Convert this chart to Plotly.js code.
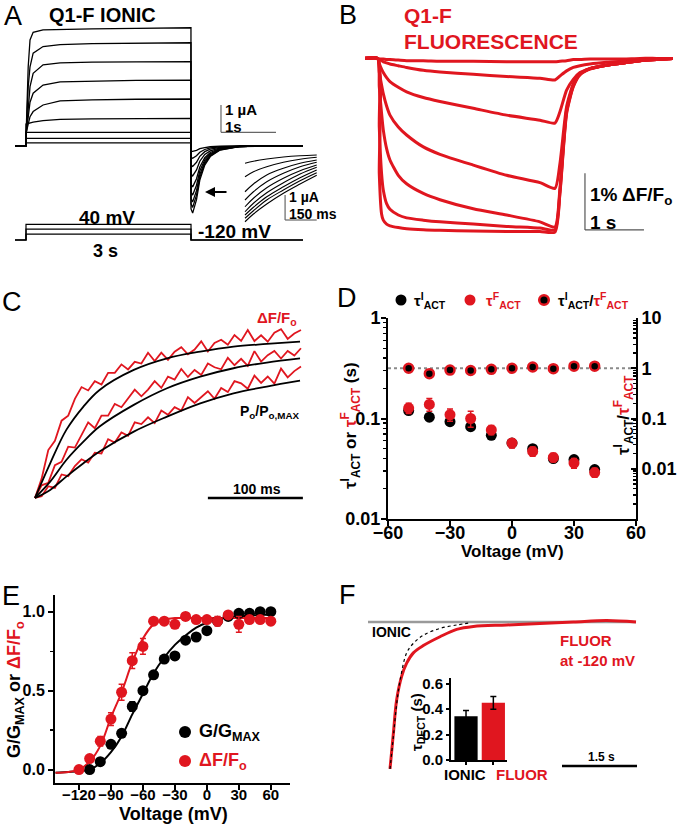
<!DOCTYPE html>
<html><head><meta charset="utf-8">
<script src="https://cdn.plot.ly/plotly-3.0.1.min.js"></script>
<style>html,body{margin:0;padding:0;background:#fff}#chart{width:680px;height:827px}</style>
</head><body><div id="chart"></div>
<script>
// ---------------- Panel A: ionic currents (time s, current uA) ----------------
const tA = [-0.2, 0, 0.0001, 0.04, 0.073, 0.13, 0.31, 0.62, 1.2, 2.0, 2.999, 3.0, 3.03, 3.1, 3.16, 3.25, 3.35, 3.53, 3.9, 4.5, 5.04];
const sweepA1 = [0,0,0.3,2.9,3.88,4.16,4.25,4.27,4.29,4.31,4.33,-2.31,-2.46,-1.97,-1.25,-0.70,-0.39,-0.15,-0.02,0,0];
const sweepA2 = [0,0,0.3,2.17,2.9,3.4,3.64,3.71,3.75,3.77,3.78,-2.12,-2.25,-1.80,-1.15,-0.64,-0.36,-0.14,-0.02,0,0];
const sweepA3 = [0,0,0.35,1.5,2.17,2.66,2.97,3.04,3.07,3.08,3.09,-1.93,-2.05,-1.64,-1.05,-0.58,-0.33,-0.12,-0.02,0,0];
const sweepA4 = [0,0,0.4,1.2,1.6,1.93,2.23,2.35,2.38,2.40,2.41,-1.69,-1.8,-1.44,-0.92,-0.51,-0.29,-0.11,-0.02,0,0];
const sweepA5 = [0,0,0.46,0.8,1.07,1.26,1.50,1.65,1.69,1.71,1.72,-1.41,-1.5,-1.2,-0.77,-0.43,-0.24,-0.09,-0.02,0,0];
const sweepA6 = [0,0,0.8,0.82,0.84,0.87,0.93,0.97,0.99,1.0,1.01,-1.03,-1.1,-0.88,-0.56,-0.31,-0.18,-0.07,-0.01,0,0];
const sweepA7 = [0,0,0.5,0.5,0.5,0.5,0.5,0.5,0.5,0.5,0.5,-0.71,-0.75,-0.6,-0.38,-0.21,-0.12,-0.05,-0.01,0,0];
const sweepA8 = [0,0,0.28,0.28,0.28,0.28,0.28,0.28,0.28,0.28,0.28,-0.42,-0.45,-0.36,-0.23,-0.13,-0.07,-0.03,0,0,0];
const sweepA9 = [0,0,0.11,0.11,0.11,0.11,0.11,0.11,0.11,0.11,0.11,-0.19,-0.2,-0.16,-0.1,-0.06,-0.03,-0.01,0,0,0];
// voltage protocol (mV)
const protoT = [-0.2, 0, 0, 3, 3, 5.04];
const protoHold = -120;
const protoLevels = [40, -10, -60];
// tail-current inset (time ms, current uA)
const tTail = [0, 40, 103, 182, 261, 340];
const tail1 = [-0.41,-0.33,-0.24,-0.16,-0.11,-0.08];
const tail2 = [-0.95,-0.75,-0.55,-0.37,-0.25,-0.17];
const tail3 = [-1.55,-1.24,-0.88,-0.61,-0.41,-0.28];
const tail4 = [-1.88,-1.55,-1.15,-0.81,-0.55,-0.37];
const tail5 = [-2.15,-1.81,-1.39,-1.01,-0.71,-0.48];
const tail6 = [-2.35,-2.01,-1.59,-1.19,-0.84,-0.57];
const tail7 = [-2.48,-2.17,-1.75,-1.35,-0.99,-0.68];
const tail8 = [-2.61,-2.31,-1.88,-1.48,-1.11,-0.79];
const tail9 = [-2.75,-2.44,-2.04,-1.61,-1.24,-0.89];

// ---------------- Panel B: fluorescence (time s, % dF/F) ----------------
const tB = [-0.226,-0.011,0.017,0.056,0.085,0.141,0.198,0.339,0.480,0.763,1.045,1.610,2.175,2.740,2.994,3.079,3.192,3.305,3.418,3.588,3.870,4.153,4.435,4.718,5.0];
const fluB1 = [0,0,-0.01,-0.01,-0.01,-0.02,-0.02,-0.03,-0.04,-0.04,-0.05,-0.05,-0.06,-0.06,-0.06,-0.05,-0.04,-0.02,-0.02,-0.01,-0.01,-0.01,0,0,0];
const fluB2 = [0,0,-0.02,-0.04,-0.06,-0.08,-0.1,-0.13,-0.16,-0.21,-0.24,-0.28,-0.32,-0.35,-0.38,-0.31,-0.22,-0.16,-0.13,-0.1,-0.07,-0.05,-0.03,-0.01,0];
const fluB3 = [0,0,-0.09,-0.19,-0.25,-0.34,-0.41,-0.51,-0.59,-0.69,-0.76,-0.88,-1.0,-1.09,-1.14,-0.94,-0.56,-0.37,-0.25,-0.18,-0.12,-0.08,-0.04,-0.02,0];
const fluB4 = [0,0,-0.24,-0.47,-0.62,-0.84,-1.0,-1.21,-1.35,-1.56,-1.69,-1.88,-2.06,-2.19,-2.29,-1.85,-0.85,-0.45,-0.27,-0.18,-0.12,-0.08,-0.04,-0.02,0];
const fluB5 = [0,0,-0.5,-0.97,-1.26,-1.59,-1.79,-2.06,-2.21,-2.38,-2.49,-2.65,-2.76,-2.88,-2.97,-2.29,-0.91,-0.47,-0.28,-0.18,-0.12,-0.08,-0.04,-0.02,0];
const fluB6 = [0,0,-1.21,-2.03,-2.32,-2.56,-2.66,-2.76,-2.81,-2.85,-2.88,-2.92,-2.96,-2.99,-3.02,-2.35,-0.94,-0.49,-0.28,-0.18,-0.12,-0.08,-0.04,-0.02,0];
const fluB7 = [0,0,-2.03,-2.74,-2.85,-2.92,-2.95,-2.98,-3.0,-3.02,-3.03,-3.04,-3.05,-3.05,-3.06,-2.38,-0.97,-0.5,-0.29,-0.19,-0.12,-0.08,-0.04,-0.02,0];

// ---------------- Panel C: normalized time courses (ms) ----------------
const tCfit = [0,16,33,51,68,104,139,174,209,244,279];
const poC1 = [0,0.206,0.405,0.544,0.643,0.762,0.831,0.871,0.901,0.917,0.931];
const poC2 = [0,0.097,0.226,0.335,0.425,0.554,0.653,0.722,0.772,0.806,0.831];
const poC3 = [0,0.048,0.127,0.206,0.276,0.395,0.484,0.563,0.623,0.663,0.698];
const tC = [0,7,14,21,28,35,42,49,56,63,70,77,84,91,98,105,112,119,126,133,140,147,154,161,168,175,182,189,196,203,210,217,224,231,238,245,252,259,266,273,280];
const dfC1 = [0,0.115,0.285,0.34,0.46,0.49,0.59,0.66,0.64,0.695,0.675,0.745,0.745,0.795,0.765,0.81,0.80,0.864,0.815,0.865,0.822,0.87,0.897,0.855,0.883,0.932,0.872,0.922,0.942,0.912,0.97,0.935,1.0,0.934,0.968,0.93,0.983,1.005,0.947,0.979,1.0];
const dfC2 = [0,0.075,0.09,0.195,0.215,0.305,0.30,0.38,0.45,0.415,0.49,0.49,0.56,0.54,0.595,0.645,0.605,0.645,0.695,0.655,0.722,0.705,0.768,0.72,0.762,0.732,0.80,0.778,0.766,0.834,0.79,0.828,0.786,0.874,0.812,0.85,0.875,0.83,0.875,0.848,0.891];
const dfC3 = [0,0.01,0.07,0.06,0.14,0.13,0.19,0.23,0.21,0.27,0.265,0.35,0.33,0.39,0.37,0.45,0.44,0.48,0.445,0.52,0.495,0.54,0.52,0.60,0.565,0.60,0.635,0.59,0.655,0.63,0.695,0.682,0.65,0.728,0.685,0.723,0.68,0.77,0.718,0.755,0.782];

// ---------------- Panel D: time constants ----------------
const voltD = [-50,-40,-30,-20,-10,0,10,20,30,40];
const tauI = [0.12,0.103,0.093,0.083,0.068,0.057,0.050,0.040,0.039,0.031];
const tauIErr = [0.008,0.007,0.006,0.005,0.004,0.003,0.003,0.002,0.002,0.002];
const tauF = [0.127,0.138,0.109,0.100,0.077,0.057,0.047,0.041,0.036,0.029];
const tauFErr = [0.015,0.02,0.015,0.018,0.008,0.006,0.005,0.004,0.004,0.003];
const tauRatio = [1.0,0.78,0.92,0.9,0.95,1.0,1.06,0.98,1.1,1.1];
const ratioRefV = [-60, 60];
const ratioRef = [1, 1];

// ---------------- Panel E: G-V and F-V ----------------
const voltG = [-110,-100,-90,-80,-70,-60,-50,-40,-30,-20,-10,0,10,20,30,40,50,60];
const gNorm = [0.0,0.05,0.16,0.23,0.40,0.50,0.60,0.70,0.72,0.82,0.84,0.88,0.94,0.97,0.99,0.99,1.0,1.0];
const gErr = [0.02,0.02,0.02,0.02,0.03,0.02,0.02,0.02,0.02,0.02,0.02,0.02,0.02,0.02,0.01,0.01,0.01,0.01];
const voltF = [-120,-110,-100,-90,-80,-70,-60,-50,-40,-30,-20,-10,0,10,20,30,40,50,60];
const fNorm = [0.0,0.07,0.18,0.32,0.49,0.69,0.78,0.94,0.94,0.92,0.97,0.95,0.95,0.94,0.98,0.92,0.95,0.95,0.94];
const fErr = [0.01,0.02,0.03,0.04,0.05,0.05,0.05,0.02,0.02,0.02,0.02,0.02,0.02,0.03,0.02,0.05,0.02,0.02,0.01];
const voltFit = [-142,-130,-120,-110,-100,-90,-80,-70,-60,-50,-40,-30,-20,-10,0,10,20,30,40,50,60];
const fitG = [-0.02,-0.015,-0.01,0.0,0.04,0.11,0.21,0.35,0.48,0.61,0.71,0.79,0.85,0.90,0.93,0.95,0.965,0.97,0.975,0.98,0.98];
const fitF = [-0.02,-0.015,0.0,0.05,0.15,0.33,0.49,0.68,0.83,0.92,0.95,0.96,0.96,0.96,0.96,0.96,0.96,0.96,0.96,0.96,0.96];

// ---------------- Panel F: deactivation ----------------
const tFluor = [0,0.067,0.133,0.233,0.333,0.467,0.667,1.0,1.333,1.667,2.333,3.0,3.667,4.333,4.92];
const fluorDeact = [0,0.24,0.47,0.63,0.72,0.79,0.84,0.90,0.95,0.97,0.98,0.99,1.0,1.01,1.0];
const tIonic = [0,0.067,0.133,0.2,0.333,0.467,0.667,1.0,1.333,1.6];
const ionicDeact = [0,0.22,0.44,0.6,0.79,0.855,0.91,0.957,0.98,0.995];
const tRef = [-0.44, 4.92];
const refLevel = [1, 1];
const barCats = ['IONIC', 'FLUOR'];
const barPos = [0, 1];
const tauDect = [0.345, 0.45];
const tauDectErr = [0.045, 0.05];

// ======================================================================
const W = 680, H = 827;
const RED = '#e0161f';
const FONT = 'Liberation Sans, Arial, sans-serif';
const fx = p => p / W, fy = p => 1 - p / H;
const dX = (a, b) => [fx(a), fx(b)];
const dY = (t, b) => [fy(b), fy(t)];

const traces = [];
const line = (x, y, xa, ya, color, width, extra) => Object.assign({
  x, y, xaxis: xa, yaxis: ya, type: 'scatter', mode: 'lines', hoverinfo: 'skip',
  line: {color, width}, showlegend: false}, extra || {});

// A
[sweepA9, sweepA8, sweepA7, sweepA6, sweepA5, sweepA4, sweepA3, sweepA2, sweepA1].forEach(s =>
  traces.push(line(tA, s, 'x', 'y', '#000', 1.3)));
protoLevels.forEach(v => traces.push(line(protoT, [protoHold, protoHold, v, v, protoHold, protoHold], 'x2', 'y2', '#000', 1.2)));
[tail1, tail2, tail3, tail4, tail5, tail6, tail7, tail8, tail9].forEach(s =>
  traces.push(line(tTail, s, 'x3', 'y3', '#000', 1.1, {line: {color: '#000', width: 1.1, shape: 'spline'}})));
// B
[fluB1, fluB2, fluB3, fluB4, fluB5, fluB6, fluB7].forEach(s =>
  traces.push(line(tB, s, 'x4', 'y4', RED, 3, {line: {color: RED, width: 3, shape: 'spline', smoothing: 0.6}})));
// C
[dfC1, dfC2, dfC3].forEach(s => traces.push(line(tC, s, 'x5', 'y5', RED, 1.8)));
[poC1, poC2, poC3].forEach(s => traces.push(line(tCfit, s, 'x5', 'y5', '#000', 1.8, {line: {color: '#000', width: 1.8, shape: 'spline'}})));
// D
traces.push(line(ratioRefV, ratioRef, 'x6', 'y7', '#8a8a8a', 2, {line: {color: '#8a8a8a', width: 2, dash: 'dot'}}));
traces.push({x: voltD, y: tauI, xaxis: 'x6', yaxis: 'y6', type: 'scatter', mode: 'markers', showlegend: false,
  marker: {color: '#000', size: 11}, error_y: {type: 'data', array: tauIErr, color: '#000', thickness: 1.5, width: 3}});
traces.push({x: voltD, y: tauF, xaxis: 'x6', yaxis: 'y6', type: 'scatter', mode: 'markers', showlegend: false,
  marker: {color: RED, size: 11}, error_y: {type: 'data', array: tauFErr, color: RED, thickness: 1.5, width: 3}});
traces.push({x: voltD, y: tauRatio, xaxis: 'x6', yaxis: 'y7', type: 'scatter', mode: 'markers', showlegend: false,
  marker: {color: '#000', size: 9, line: {color: RED, width: 2.5}}});
// E
traces.push(line(voltFit, fitG, 'x8', 'y8', '#000', 2, {line: {color: '#000', width: 2, shape: 'spline'}}));
traces.push(line(voltFit, fitF, 'x8', 'y8', RED, 2, {line: {color: RED, width: 2, shape: 'spline'}}));
traces.push({x: voltG, y: gNorm, xaxis: 'x8', yaxis: 'y8', type: 'scatter', mode: 'markers', showlegend: false,
  marker: {color: '#000', size: 11}, error_y: {type: 'data', array: gErr, color: '#000', thickness: 1.5, width: 3}});
traces.push({x: voltF, y: fNorm, xaxis: 'x8', yaxis: 'y8', type: 'scatter', mode: 'markers', showlegend: false,
  marker: {color: RED, size: 11}, error_y: {type: 'data', array: fErr, color: RED, thickness: 1.5, width: 3}});
// F
traces.push(line(tRef, refLevel, 'x9', 'y9', '#9a9a9a', 2.5));
traces.push(line(tFluor, fluorDeact, 'x9', 'y9', RED, 3, {line: {color: RED, width: 3, shape: 'spline'}}));
traces.push(line(tIonic, ionicDeact, 'x9', 'y9', '#000', 1.2, {line: {color: '#000', width: 1.2, dash: 'dot', shape: 'spline'}}));
traces.push({x: barPos, y: tauDect, xaxis: 'x10', yaxis: 'y10', type: 'bar', width: 0.85, showlegend: false,
  marker: {color: ['#000', RED]}, error_y: {type: 'data', array: tauDectErr, color: '#000', thickness: 1.5, width: 3}});

// axes
const hid = (domain, range, anchor) => ({domain, range, anchor, visible: false, fixedrange: true});
const tf = s => ({family: FONT, size: s, color: '#000', weight: 'bold'});
const minorLog = (lo, hi) => { const v = []; for (let e = lo; e < hi; e++) for (let k = 2; k <= 9; k++) v.push(k * Math.pow(10, e)); return v; };
const axBase = {showline: true, linewidth: 2, linecolor: '#000', ticks: 'outside', ticklen: 5, tickwidth: 2, tickcolor: '#000',
  showgrid: false, zeroline: false, fixedrange: true};

const layout = {
  width: W, height: H, margin: {l: 0, r: 0, t: 0, b: 0}, paper_bgcolor: '#fff', plot_bgcolor: 'rgba(0,0,0,0)',
  font: {family: FONT, color: '#000'}, showlegend: false,
  xaxis: hid(dX(15, 303), [-0.2, 5.036], 'y'),
  yaxis: hid(dY(25, 215), [-2.53, 4.43], 'x'),
  xaxis2: hid(dX(15, 303), [-0.2, 5.036], 'y2'),
  yaxis2: hid(dY(215, 245), [-171, 134.8], 'x2'),
  xaxis3: hid(dX(240, 320), [-23.7, 355.5], 'y3'),
  yaxis3: hid(dY(150, 225), [-2.88, 0.12], 'x3'),
  xaxis4: hid(dX(365, 673), [-0.225, 4.995], 'y4'),
  yaxis4: hid(dY(30, 240), [-3.2, 0.5], 'x4'),
  xaxis5: hid(dX(25, 310), [-10.5, 289.5], 'y5'),
  yaxis5: hid(dY(315, 505), [-0.042, 1.089], 'x5'),
  xaxis6: Object.assign({}, axBase, {domain: dX(388, 636), range: [-60, 60], anchor: 'y6',
    tickvals: [-60, -30, 0, 30, 60], tickfont: tf(18), ticklabelstandoff: -9}),
  yaxis6: Object.assign({}, axBase, {domain: dY(318, 519), type: 'log', range: [-2, 0], anchor: 'x6',
    tickvals: [0.01, 0.1, 1], ticktext: ['0.01', '0.1', '1'], tickfont: tf(18), ticklabelstandoff: -3,
    minor: {ticks: 'outside', ticklen: 3, tickwidth: 1.3, tickcolor: '#000', tickvals: minorLog(-2, 0)}}),
  yaxis7: Object.assign({}, axBase, {overlaying: 'y6', side: 'right', anchor: 'x6', type: 'log', range: [-3, 1],
    ticks: 'inside', tickvals: [0.01, 0.1, 1, 10], ticktext: ['0.01', '0.1', '1', '10'], tickfont: tf(18),
    minor: {ticks: 'inside', ticklen: 3, tickwidth: 1.3, tickcolor: '#000', tickvals: minorLog(-3, 1)}}),
  xaxis8: Object.assign({}, axBase, {domain: dX(55, 290), range: [-142.5, 78], anchor: 'y8',
    tickvals: [-120, -90, -60, -30, 0, 30, 60], tickfont: tf(15), ticklabelstandoff: -8}),
  yaxis8: Object.assign({}, axBase, {domain: dY(595, 783), range: [-0.085, 1.106], anchor: 'x8',
    tickvals: [0, 0.5, 1], ticktext: ['0.0', '0.5', '1.0'], tickfont: tf(16),
    minor: {ticks: 'outside', ticklen: 3, tickwidth: 1.3, tickcolor: '#000', tickvals: [0.25, 0.75]}}),
  xaxis9: hid(dX(360, 640), [-0.6, 5.0], 'y9'),
  yaxis9: hid(dY(610, 775), [-0.041, 1.082], 'x9'),
  xaxis10: Object.assign({}, axBase, {domain: dX(451, 507), range: [-0.55, 1.5], anchor: 'y10',
    tickvals: barPos, ticklen: 3, showticklabels: false}),
  yaxis10: Object.assign({}, axBase, {domain: dY(678, 760), range: [0, 0.645], anchor: 'x10', ticklen: 3,
    tickvals: [0, 0.2, 0.4, 0.6], ticktext: ['0.0', '0.2', '0.4', '0.6'], tickfont: tf(15)}),
  annotations: [], shapes: []
};

const A = (text, x, y, size, opt) => {
  const o = Object.assign({xanchor: 'center', color: '#000', weight: 'bold', angle: 0}, opt || {});
  layout.annotations.push({text, x: fx(x), y: fy(y), xref: 'paper', yref: 'paper', showarrow: false,
    xanchor: o.xanchor, yanchor: 'middle', textangle: o.angle,
    font: {family: FONT, size, color: o.color, weight: o.weight}});
};
// panel letters
[['A', 13, 16], ['B', 348, 15], ['C', 12, 302], ['D', 347, 298], ['E', 11, 596], ['F', 347, 595]].forEach(l =>
  A(l[0], l[1], l[2], 27, {weight: 'normal'}));
// A texts
A('Q1-F IONIC', 102, 15, 20);
A('1 µA', 223, 110, 15, {xanchor: 'left'});
A('1s', 223, 127, 15, {xanchor: 'left'});
A('1 µA', 287, 197, 14, {xanchor: 'left'});
A('150 ms', 287, 214, 14, {xanchor: 'left'});
A('40 mV', 107, 217, 19);
A('-120 mV', 196, 232, 19, {xanchor: 'left'});
A('3 s', 105, 251, 18);
layout.annotations.push({text: '', x: fx(205), y: fy(192), xref: 'paper', yref: 'paper', showarrow: true,
  ax: 23, ay: 0, arrowhead: 2, arrowsize: 1, arrowwidth: 2, arrowcolor: '#000'});
// B texts
A('Q1-F', 402, 16, 21, {xanchor: 'left', color: RED});
A('FLUORESCENCE', 402, 42, 21, {xanchor: 'left', color: RED});
A('1% ΔF/F<sub>o</sub>', 588, 196, 19, {xanchor: 'left'});
A('1 s', 588, 222, 19, {xanchor: 'left'});
// C texts
A('ΔF/F<sub>o</sub>', 299, 318, 15, {xanchor: 'right', color: RED});
A('P<sub>o</sub>/P<sub>o,MAX</sub>', 302, 412, 14, {xanchor: 'right'});
A('100 ms', 257, 489, 14);
// D texts
A('τ<sup>I</sup><sub>ACT</sub>', 412, 300, 15, {xanchor: 'left'});
A('τ<sup>F</sup><sub>ACT</sub>', 484, 300, 15, {xanchor: 'left', color: RED});
A('τ<sup>I</sup><sub>ACT</sub>/<span style="color:' + RED + '">τ<sup>F</sup><sub>ACT</sub></span>', 556, 300, 15, {xanchor: 'left'});
A('τ<sup>I</sup><sub>ACT</sub> or <span style="color:' + RED + '">τ<sup>F</sup><sub>ACT</sub></span> (s)', 350, 425, 17, {angle: -90});
A('τ<sup>I</sup><sub>ACT</sub>/<span style="color:' + RED + '">τ<sup>F</sup><sub>ACT</sub></span>', 623, 415, 17, {angle: -90});
A('Voltage (mV)', 512, 551, 17);
// E texts
A('G/G<sub>MAX</sub> or <span style="color:' + RED + '">ΔF/F<sub>o</sub></span>', 15, 690, 18, {angle: -90});
A('Voltage (mV)', 173, 814, 18);
A('G/G<sub>MAX</sub>', 197, 732, 18, {xanchor: 'left'});
A('ΔF/F<sub>o</sub>', 197, 761, 18, {xanchor: 'left', color: RED});
// F texts
A('IONIC', 392, 632, 14);
A('FLUOR', 558, 640, 15, {xanchor: 'left', color: RED});
A('at -120 mV', 558, 660, 15, {xanchor: 'left', color: RED});
A('1.5 s', 601, 757, 12);
A('τ<sub>DECT</sub> (s)', 417, 722, 15, {angle: -90});
A(barCats[0], 465, 774, 15);
A(barCats[1], 494, 774, 15, {color: RED, xanchor: 'left'});

// scale bars (in each panel's own units)
const seg = (xref, yref, x0, y0, x1, y1, color, width) => layout.shapes.push({type: 'line', xref, yref, x0, y0, x1, y1, line: {color, width}});
seg('x', 'y', 3.545, 0.5, 3.545, 1.5, '#666', 1.2);
seg('x', 'y', 3.545, 0.5, 4.545, 0.5, '#666', 1.2);
seg('x3', 'y3', 190, -1.68, 190, -2.68, '#666', 1.2);
seg('x3', 'y3', 190, -2.68, 340, -2.68, '#666', 1.2);
seg('x4', 'y4', 3.503, -2.023, 3.503, -3.023, '#555', 1.2);
seg('x4', 'y4', 3.503, -3.023, 4.503, -3.023, '#555', 1.2);
seg('x5', 'y5', 182, 0.0, 282, 0.0, '#000', 2.5);
seg('x9', 'y9', 3.44, 0.02, 4.94, 0.02, '#000', 2.5);
// legend symbols
const dot = (cx, cy, r, fill, lc, lw) => layout.shapes.push({type: 'circle', xref: 'paper', yref: 'paper',
  x0: fx(cx - r), x1: fx(cx + r), y0: fy(cy + r), y1: fy(cy - r), fillcolor: fill, line: {color: lc, width: lw}});
dot(401, 300, 5.5, '#000', '#000', 0);
dot(470, 300, 5.5, RED, RED, 0);
dot(544, 300, 4.8, '#000', RED, 2.5);
dot(185, 732, 6, '#000', '#000', 0);
dot(185, 761, 6, RED, RED, 0);

Plotly.newPlot('chart', traces, layout, {displayModeBar: false, staticPlot: true});
</script></body></html>
